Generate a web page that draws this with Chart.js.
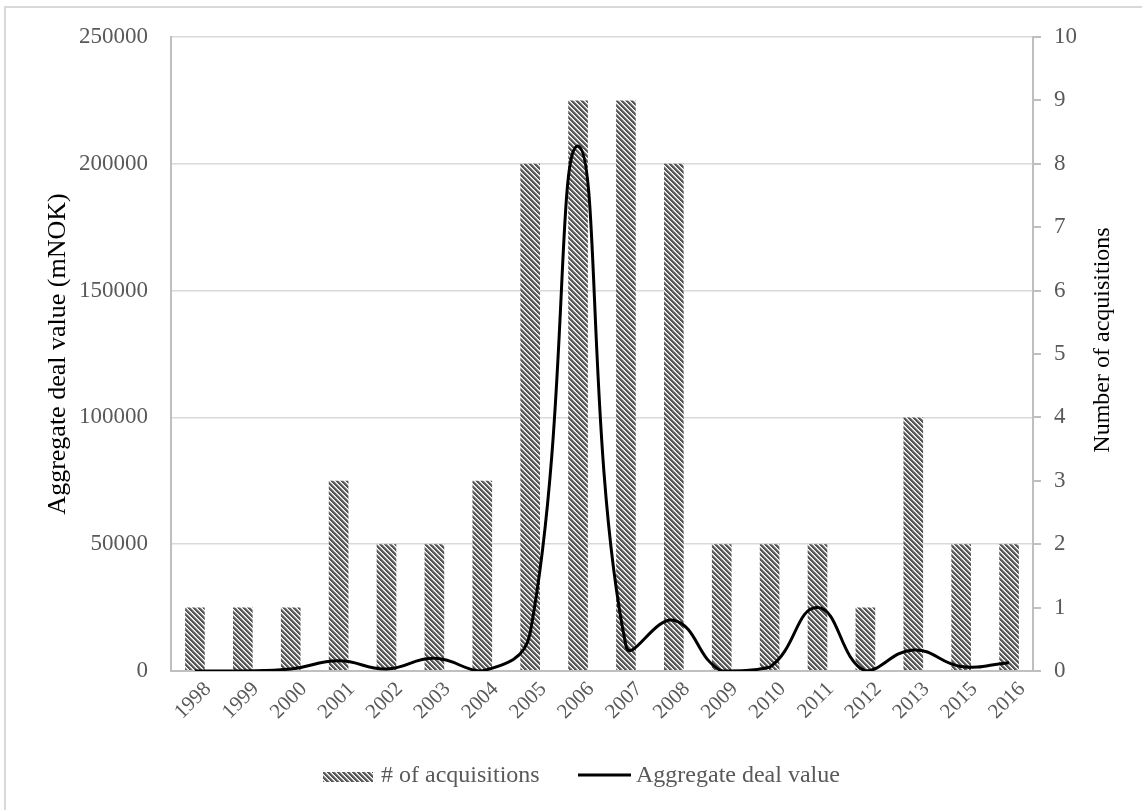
<!DOCTYPE html>
<html>
<head>
<meta charset="utf-8">
<script src="https://cdn.jsdelivr.net/npm/chart.js@4/dist/chart.umd.min.js"></script>
<style>
  html, body { margin: 0; padding: 0; background: #fff; }
  #wrap { width: 1142px; height: 810px; }
</style>
</head>
<body>
<div id="wrap"><canvas id="chart" width="1142" height="810"></canvas></div>
<script>
// Deals per year
const years = ['1998', '1999', '2000', '2001', '2002', '2003', '2004', '2005', '2006',
               '2007', '2008', '2009', '2010', '2011', '2012', '2013', '2015', '2016'];
const acquisitions = [1, 1, 1, 3, 2, 2, 3, 8, 9, 9, 8, 2, 2, 2, 1, 4, 2, 2];
const dealValue = [0, 0, 800, 4000, 800, 5000, 0, 15000, 207000, 10000, 20000, 0, 1500, 25000, 0, 8300, 1800, 3300];

// Axis ranges
const valueAxisMax = 250000;
const valueAxisStep = 50000;
const countAxisMax = 10;
const countAxisStep = 1;

const barLabel = '# of acquisitions';
const lineLabel = 'Aggregate deal value';
const valueTitle = 'Aggregate deal value (mNOK)';
const countTitle = 'Number of acquisitions';

const SERIF = "'Liberation Serif', 'Times New Roman', serif";
const TICK_GREY = '#595959';
const AXIS_GREY = '#bfbfbf';
const GRID_GREY = '#d9d9d9';

// Diagonal hatch fill for the bars
function makeHatch() {
  const n = 5;
  const tile = document.createElement('canvas');
  tile.width = n; tile.height = n;
  const tctx = tile.getContext('2d');
  const img = tctx.createImageData(n, n);
  const shade = [85, 85, 110, 200, 255];
  for (let y = 0; y < n; y++) {
    for (let x = 0; x < n; x++) {
      const k = ((x - y) % n + n) % n;
      const v = shade[k];
      const i = (y * n + x) * 4;
      img.data[i] = v; img.data[i + 1] = v; img.data[i + 2] = v; img.data[i + 3] = 255;
    }
  }
  tctx.putImageData(img, 0, 0);
  return tctx.createPattern(tile, 'repeat');
}

const canvas = document.getElementById('chart');
const hatch = makeHatch();

// Outer frame, right-hand title and bottom legend
const decorations = {
  id: 'decorations',
  beforeDraw(chart) {
    const ctx = chart.ctx;
    ctx.save();
    ctx.fillStyle = '#fff';
    ctx.fillRect(0, 0, chart.width, chart.height);
    ctx.strokeStyle = GRID_GREY;
    ctx.lineWidth = 2;
    ctx.strokeRect(5, 7, chart.width + 20, chart.height + 20);
    ctx.restore();
  },
  afterDraw(chart) {
    const ctx = chart.ctx;
    ctx.save();
    // right axis title, reading bottom to top
    ctx.translate(1103, 340);
    ctx.rotate(-Math.PI / 2);
    ctx.font = '24px ' + SERIF;
    ctx.fillStyle = '#000';
    ctx.textAlign = 'center';
    ctx.textBaseline = 'middle';
    ctx.fillText(countTitle, 0, 0);
    ctx.restore();

    // legend
    const bars = chart.data.datasets[0];
    const line = chart.data.datasets[1];
    ctx.save();
    ctx.font = '24px ' + SERIF;
    ctx.textBaseline = 'middle';
    ctx.textAlign = 'left';
    const ly = 776;
    ctx.fillStyle = bars.backgroundColor;
    ctx.fillRect(323, 772, 50, 10);
    ctx.fillStyle = TICK_GREY;
    ctx.fillText(bars.label, 381, ly);
    ctx.strokeStyle = line.borderColor;
    ctx.lineWidth = 3;
    ctx.beginPath();
    ctx.moveTo(578, 775);
    ctx.lineTo(631, 775);
    ctx.stroke();
    ctx.fillStyle = TICK_GREY;
    ctx.fillText(line.label, 636, ly);
    ctx.restore();
  }
};

new Chart(canvas, {
  type: 'bar',
  data: {
    labels: years,
    datasets: [
      {
        type: 'bar',
        label: barLabel,
        data: acquisitions,
        yAxisID: 'y1',
        backgroundColor: hatch,
        borderWidth: 0,
        categoryPercentage: 1,
        barPercentage: 0.41,
        order: 2
      },
      {
        type: 'line',
        label: lineLabel,
        data: dealValue,
        yAxisID: 'y',
        borderColor: '#000',
        borderWidth: 3,
        pointRadius: 0,
        fill: false,
        tension: 0.45,
        order: 1
      }
    ]
  },
  options: {
    responsive: false,
    devicePixelRatio: 1,
    animation: false,
    layout: { padding: { top: 37, left: 0, right: 0, bottom: 0 } },
    plugins: {
      legend: { display: false },
      tooltip: { enabled: false }
    },
    scales: {
      x: {
        grid: { display: false, drawTicks: false },
        border: { display: true, color: AXIS_GREY, width: 2 },
        ticks: {
          color: TICK_GREY,
          font: { family: SERIF, size: 21 },
          maxRotation: 45,
          minRotation: 45,
          padding: 6,
          labelOffset: 13,
          autoSkip: false
        },
        afterFit(scale) { scale.height = 139; }
      },
      y: {
        position: 'left',
        min: 0,
        max: valueAxisMax,
        grid: { color: GRID_GREY, lineWidth: 1.5, drawTicks: false },
        border: { display: true, color: AXIS_GREY, width: 2 },
        ticks: {
          stepSize: valueAxisStep,
          color: TICK_GREY,
          font: { family: SERIF, size: 23 },
          padding: 23,
          callback: (v) => String(v)
        },
        title: {
          display: true,
          text: valueTitle,
          color: '#000',
          font: { family: SERIF, size: 26 },
          padding: { top: 43, bottom: 0 }
        },
        afterFit(scale) { scale.width = 171; }
      },
      y1: {
        position: 'right',
        min: 0,
        max: countAxisMax,
        grid: { drawOnChartArea: false, drawTicks: true, tickLength: 8, color: AXIS_GREY, tickColor: AXIS_GREY, tickWidth: 2, lineWidth: 2 },
        border: { display: true, color: AXIS_GREY, width: 2 },
        ticks: {
          stepSize: countAxisStep,
          color: TICK_GREY,
          font: { family: SERIF, size: 23 },
          padding: 13
        },
        afterFit(scale) { scale.width = 109; }
      }
    }
  },
  plugins: [decorations]
});
</script>
</body>
</html>
